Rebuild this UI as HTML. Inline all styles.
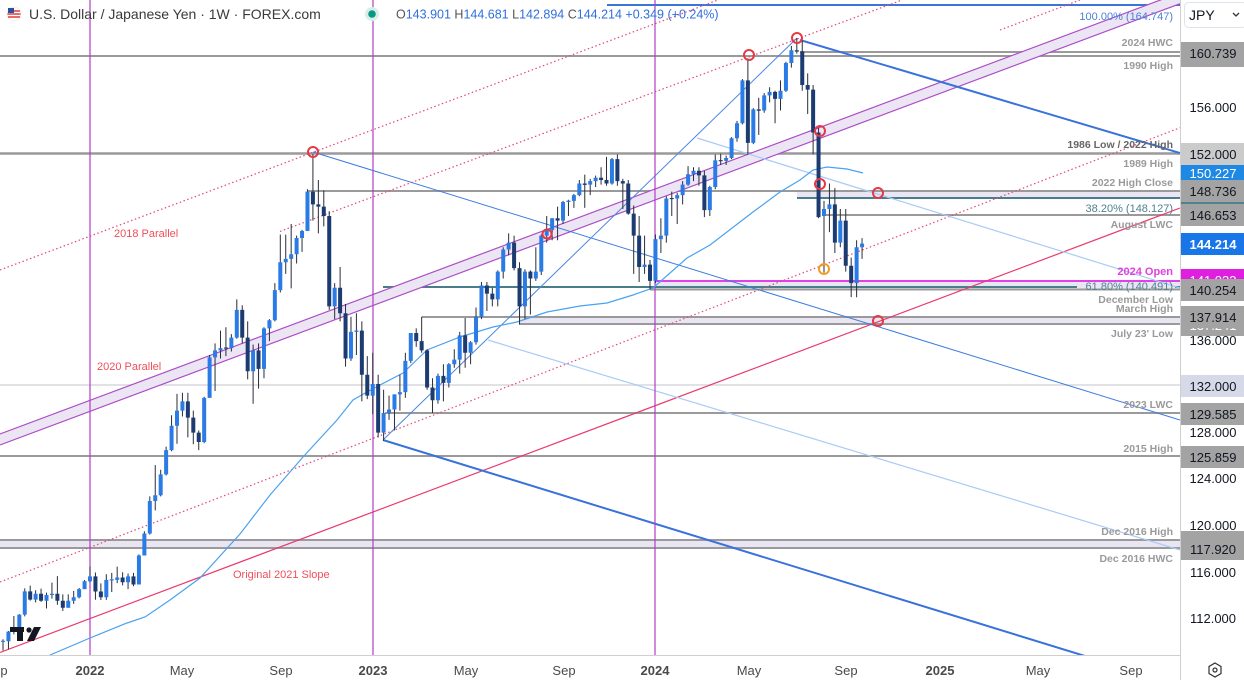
<!DOCTYPE html>
<html><head><meta charset="utf-8"><style>
html,body{margin:0;padding:0;background:#fff;}
body{width:1244px;height:680px;overflow:hidden;font-family:"Liberation Sans",sans-serif;}
svg{display:block;}
</style></head><body>
<svg width="1244" height="680" viewBox="0 0 1244 680" xmlns="http://www.w3.org/2000/svg" font-family="Liberation Sans, sans-serif">
<defs><clipPath id="ca"><rect x="0" y="0" width="1180" height="655"/></clipPath></defs>
<rect width="1244" height="680" fill="#fff"/>
<g clip-path="url(#ca)">
 <rect x="797" y="191" width="383" height="7" fill="#e9e5f3"/>
 <rect x="655" y="281" width="525" height="8" fill="#e9e5f3"/>
 <rect x="519" y="317" width="661" height="7" fill="#e9e5f3"/>
 <rect x="0" y="540" width="1180" height="8" fill="#e9e5f3"/>
 <g stroke="#9a9a9a" stroke-width="2">
  <line x1="800" y1="52" x2="1180" y2="52"/>
  <line x1="0" y1="56" x2="1180" y2="56"/>
  <line x1="0" y1="153.5" x2="1180" y2="153.5" stroke-width="2.5"/>
  <line x1="307" y1="191" x2="1180" y2="191"/>
  <line x1="825" y1="215" x2="1180" y2="215"/>
  <line x1="650" y1="289.5" x2="1180" y2="289.5"/>
  <line x1="422" y1="317" x2="1180" y2="317"/>
  <line x1="519" y1="324" x2="1180" y2="324"/>
  <line x1="385" y1="413" x2="1180" y2="413"/>
  <line x1="0" y1="456" x2="1180" y2="456"/>
  <line x1="0" y1="540" x2="1180" y2="540"/>
  <line x1="0" y1="548" x2="1180" y2="548"/>
 </g>
 <line x1="0" y1="385" x2="1180" y2="385" stroke="#e2e2e6" stroke-width="2"/>
 <line x1="797" y1="198" x2="1180" y2="198" stroke="#4a7d8b" stroke-width="2"/>
 <line x1="383" y1="287" x2="1077" y2="287" stroke="#4a7d8b" stroke-width="2"/>
 <line x1="1175" y1="287" x2="1180" y2="287" stroke="#4a7d8b" stroke-width="2"/>
 <line x1="655" y1="281" x2="1180" y2="281" stroke="#e040e8" stroke-width="2"/>
 <line x1="607" y1="5" x2="1180" y2="5" stroke="#3a76d8" stroke-width="2"/>
 <polygon points="0,434 1180,-7.3 1180,3.7 0,445" fill="#ebe5f4"/>
 <line x1="0" y1="434" x2="1180" y2="-7.3" stroke="#ad4cc6" stroke-width="1.2"/>
 <line x1="0" y1="445" x2="1180" y2="3.7" stroke="#ad4cc6" stroke-width="1.2"/>
 <g stroke="#e8457a" stroke-width="1.2" stroke-dasharray="1.5 2.5" fill="none">
  <line x1="0" y1="270" x2="718" y2="0"/>
  <line x1="280" y1="231.4" x2="902" y2="0"/>
  <line x1="0" y1="582" x2="1180" y2="127.7"/>
  <line x1="1000" y1="30" x2="1080" y2="0"/>
 </g>
 <line x1="0" y1="652.5" x2="1180" y2="208" stroke="#ea3a6c" stroke-width="1.2"/>
 <line x1="313" y1="152" x2="1180" y2="420" stroke="#3b7be0" stroke-width="1"/>
 <line x1="800" y1="40" x2="1180" y2="153" stroke="#3a72db" stroke-width="2"/>
 <line x1="383" y1="440" x2="1085" y2="656" stroke="#3a72db" stroke-width="2"/>
 <line x1="383" y1="440" x2="797" y2="38" stroke="#4a86e0" stroke-width="1"/>
 <line x1="488" y1="340" x2="1180" y2="550" stroke="#a9cbf5" stroke-width="1.2"/>
 <line x1="697" y1="138" x2="1180" y2="288" stroke="#a9cbf5" stroke-width="1.2"/>
 <g stroke="#b33cc6" stroke-width="1.2">
  <line x1="90" y1="0" x2="90" y2="655"/>
  <line x1="373" y1="0" x2="373" y2="655"/>
  <line x1="655" y1="0" x2="655" y2="655"/>
 </g>
 <polyline fill="none" stroke="#4aa2f0" stroke-width="1.2" points="50,655 90,638 127,623 145,617 170,600 200,578 240,534 270,495 303,457 337,420 353,400 367,392 380,385 403,373 427,350 460,337 493,327 517,322 547,312 580,306 607,303 633,295 653,288 687,258 710,245 753,212 780,192 800,180 813,170 827,167 847,169 863,173"/>
 <g transform="matrix(5.437,0,0,-11.59,3.008,1915.04)" fill="none" stroke-linecap="butt">
  <path vector-effect="non-scaling-stroke" stroke="#2a2e39" stroke-width="1" d="M0 109.11V110.08M1 109.21V110.79M2 110.5V112.08M3 110.82V112.25M4 112.05V114.47M5 113.41V114.7M6 113.25V114.3M7 113.3V114.44M8 112.73V114.1M9 113.58V114.96M10 113.05V115.52M11 112.53V113.95M12 112.8V113.95M13 113.13V114.25M14 113.6V114.5M15 114.4V115.19M16 115V116.35M17 113.48V115.84M18 113.46V114.9M19 113.47V115.68M20 114.15V115.8M21 114.92V116.34M22 114.73V115.86M23 114.4V115.75M24 114.65V115.8M25 114.8V117.4M26 117.3V119.4M27 119.1V122.4M28 121.2V125.1M29 122.4V124.7M30 124.2V126.7M31 126.3V129.4M32 126.95V131.25M33 129.3V131.35M34 127.5V131.35M35 126.9V129.8M36 126.4V128.1M37 127V131M38 130.9V134.6M39 131.5V135.6M40 134.3V136.7M41 134.5V137M42 134.9V136.4M43 136V139.4M44 135.6V138.9M45 132.5V137.5M46 130.4V135.5M47 131.7V135.6M48 132.6V137M49 135.8V137.7M50 137.5V140.8M51 140V145M52 141.6V144.99M53 140.35V145.9M54 142.5V144.9M55 143.5V145.4M56 145.3V148.9M57 146.2V151.95M58 145.1V149.7M59 145.7V148.8M60 138.5V147M61 137.7V140.8M62 137.5V142.2M63 133.6V139M64 134.1V137.9M65 134.6V138.2M66 130.6V137.5M67 130.8V134.5M68 129.5V134.8M69 127.5V132.9M70 127.2V131.6M71 129V131.1M72 128.1V131.2M73 129.8V132.9M74 130.9V134.8M75 133.9V136.5M76 135.3V136.9M77 134.8V137.9M78 131.6V135.1M79 129.6V132.6M80 130.4V133M81 130.6V133.8M82 131.8V133.9M83 133.5V135.1M84 133V136.6M85 133.5V137.8M86 133.8V135.8M87 135.5V138.7M88 137.7V140.9M89 138.4V140.9M90 138.8V140.4M91 138.8V141.9M92 141.2V143.9M93 143.2V145.1M94 141.9V144.9M95 137.24V142.6M96 137.7V142M97 138.1V141.9M98 141V143.9M99 141.5V145M100 144.3V146.6M101 144.5V146.4M102 144.5V147.4M103 145.9V147.9M104 146.6V148M105 147.3V148.5M106 148.3V149.7M107 147.3V150.16M108 148.4V149.8M109 149.1V150.08M110 149.3V150.8M111 149.2V151.7M112 149.3V151.6M113 149.2V151.9M114 147.2V149.8M115 146.7V149.7M116 141.6V147.5M117 140.9V146.6M118 141.6V144.9M119 140.25V142.8M120 140.8V145M121 143.4V146.4M122 144.3V148.3M123 146.6V148.7M124 145.9V148.6M125 147.6V149.6M126 149.2V150.9M127 149.6V150.8M128 149.2V150.8M129 146.5V150.5M130 146.6V149.2M131 148.9V151.9M132 151V151.97M133 151V151.8M134 151.5V153.4M135 153V154.8M136 154.5V158.4M137 151.86V160.2M138 152.8V155.9M139 153.6V156.8M140 155.5V157.2M141 156.4V157.7M142 154.6V157.4M143 155.7V158.3M144 157.3V159.9M145 159.4V161.27M146 160.6V161.95M147 157.4V161.8M148 155.4V158.9M149 151.9V157.9M150 146.4V154.2M151 141.7V147.9M152 145.2V149.4M153 143.4V149M154 143.9V147.2M155 141.8V147.2M156 139.6V143M157 139.58V144.5M158 142.894V144.681"/>
  <path vector-effect="non-scaling-stroke" stroke="#2b7be6" stroke-width="4" d="M0 109.85V109.95M1 109.9V110.74M2 110.74V111.05M3 111.05V112.2M4 112.2V114.21M6 113.5V114M8 113.4V113.9M9 113.9V114M12 112.8V113.4M13 113.4V113.7M14 113.7V114.4M15 114.4V115.08M16 115.08V115.5M19 113.7V115.2M20 115.15V115.25M21 115.2V115.4M23 115V115.5M25 114.8V117.3M26 117.3V119.2M27 119.2V122M28 122V122.5M29 122.5V124.3M30 124.3V126.4M31 126.4V128.5M32 128.5V129.8M33 129.8V130.6M37 127.1V130.9M38 130.9V134.4M39 134.4V135M40 135V135.2M42 135.2V136.1M43 136.1V138.5M46 133.2V135M48 133.4V136.9M49 136.9V137.6M50 137.6V140.2M51 140.2V142.6M52 142.6V142.9M53 142.9V143.3M54 143.3V144.7M55 144.7V145.3M56 145.3V148.7M61 138.8V140.4M64 134.3V136.6M65 136.6V136.72M68 131.1V132.1M70 127.9V129.6M71 129.6V129.9M72 129.9V131.2M73 131.2V131.4M74 131.4V134.1M75 134.1V136.5M80 130.7V132.8M82 132.2V133.8M83 133.8V134.2M84 134.2V136.3M86 134.8V135.7M87 135.7V137.9M88 137.9V140.6M91 139.4V141.8M92 141.8V143.7M93 143.7V144.3M96 138.8V141.8M98 141.2V141.8M99 141.8V144.9M100 144.9V145.4M101 145.4V146.4M103 146.2V147.8M104 147.8V147.92M105 147.9V148.4M106 148.4V149.4M108 149.3V149.6M109 149.6V149.9M112 149.4V151.5M118 142.2V142.4M120 141V144.6M121 144.6V144.9M122 144.9V148.1M124 148.1V148.4M125 148.4V149.3M126 149.3V150.2M127 150.2V150.5M130 147.1V149.1M131 149.1V151.4M133 151.35V151.6M134 151.6V153.3M135 153.3V154.6M136 154.6V158.3M138 152.9V155.8M140 155.7V157M141 157V157.3M143 156.7V157.4M144 157.4V159.8M145 159.8V160.9M151 146.6V147.2M152 147.2V147.6M154 144.3V146.2M157 140.8V143.9M158 143.901V144.214"/>
  <path vector-effect="non-scaling-stroke" stroke="#1c3b70" stroke-width="4" d="M5 114.21V113.5M7 114V113.4M10 114V113.4M11 113.4V112.8M17 115.5V114.2M18 114.2V113.7M22 115.4V115M24 115.5V114.8M34 130.6V129.2M35 129.2V127.9M36 127.9V127.1M41 135.25V135.15M44 138.5V136.1M45 136.1V133.2M47 135V133.4M57 148.7V147.6M58 147.6V147.4M59 147.4V146.6M60 146.6V138.8M62 140.4V138.2M63 138.2V134.3M66 136.7V132.9M67 132.9V131.1M69 132.1V127.9M76 136.5V135.8M77 135.8V135M78 135V131.8M79 131.8V130.7M81 132.8V132.2M85 136.3V134.8M89 140.6V139.9M90 139.9V139.4M94 144.3V142.1M95 142.1V138.8M97 141.8V141.2M102 146.4V146.2M107 149.4V149.28M110 149.9V149.7M111 149.7V149.4M113 151.5V149.6M114 149.6V149.4M115 149.4V146.8M116 146.8V144.9M117 144.9V142.2M119 142.4V141M123 148.15V148.05M128 150.5V150.1M129 150.1V147.1M132 151.42V151.32M137 158.3V152.9M139 155.8V155.68M142 157.3V156.7M146 160.9V160.78M147 160.8V157.9M148 157.9V157.5M149 157.5V153.8M150 153.8V146.5M153 147.6V144.3M155 146.2V142.3M156 142.3V140.8"/>
 </g>
 <g fill="none" stroke="#e53945" stroke-width="2">
  <circle cx="313" cy="152" r="5"/>
  <circle cx="547" cy="234" r="4.5"/>
  <circle cx="749" cy="55" r="5"/>
  <circle cx="797" cy="38" r="5"/>
  <circle cx="820" cy="131" r="5"/>
  <circle cx="820" cy="184" r="5"/>
  <circle cx="878" cy="193" r="5"/>
  <circle cx="878" cy="321" r="5"/>
 </g>
 <circle cx="824" cy="269" r="5" fill="none" stroke="#f39c23" stroke-width="2"/>
 <g fill="#131722">
  <rect x="10" y="627" width="14" height="5"/>
  <rect x="17" y="627" width="6" height="14"/>
  <circle cx="29" cy="630" r="2.6"/>
  <polygon points="34,627 41,627 34,641 27,641"/>
 </g>
</g>
<g font-size="11" fill="#ef4f5a">
 <text x="114" y="237">2018 Parallel</text>
 <text x="97" y="370">2020 Parallel</text>
 <text x="233" y="578">Original 2021 Slope</text>
</g>
<g font-size="10.5" font-weight="bold" fill="#9a9a9a" text-anchor="end">
 <text x="1173" y="46">2024 HWC</text>
 <text x="1173" y="69">1990 High</text>
 <text x="1173" y="148" fill="#666">1986 Low / 2022 High</text>
 <text x="1173" y="167">1989 High</text>
 <text x="1173" y="186">2022 High Close</text>
 <text x="1173" y="228">August LWC</text>
 <text x="1173" y="303">December Low</text>
 <text x="1173" y="312">March High</text>
 <text x="1173" y="337">July 23' Low</text>
 <text x="1173" y="408">2023 LWC</text>
 <text x="1173" y="452">2015 High</text>
 <text x="1173" y="535">Dec 2016 High</text>
 <text x="1173" y="562">Dec 2016 HWC</text>
</g>
<g font-size="11" text-anchor="end">
 <text x="1173" y="20" fill="#4a80d8">100.00% (164.747)</text>
 <text x="1173" y="212" fill="#4f8191">38.20% (148.127)</text>
 <text x="1173" y="275" fill="#e040e0" font-weight="bold">2024 Open</text>
 <text x="1173" y="290" fill="#4f8191">61.80% (140.491)</text>
</g>
<g>
 <circle cx="14" cy="14" r="7" fill="#fff" stroke="#e0e0e0" stroke-width="0.5"/>
 <path d="M8,11 h12 M7.5,14 h13 M8,17 h12" stroke="#e53935" stroke-width="1.4"/>
 <rect x="8" y="8" width="6" height="5" fill="#2c4fa3"/>
 <text x="29" y="19" font-size="14" fill="#3a3a3a">U.S. Dollar / Japanese Yen · 1W · FOREX.com</text>
 <circle cx="372" cy="14" r="7" fill="#d8efe9"/>
 <circle cx="372" cy="14" r="3.8" fill="#089981"/>
 <text x="396" y="18.5" font-size="12.5" fill="#2f6fde"><tspan fill="#555">O</tspan>143.901 <tspan fill="#555">H</tspan>144.681 <tspan fill="#555">L</tspan>142.894 <tspan fill="#555">C</tspan>144.214 +0.349 (+0.24%)</text>
</g>
<rect x="1180" y="0" width="64" height="680" fill="#fff"/>
<rect x="0" y="655" width="1180" height="25" fill="#fff"/>
<line x1="1180.5" y1="0" x2="1180.5" y2="680" stroke="#cfcfcf" stroke-width="1"/>
<line x1="0" y1="655.5" x2="1180" y2="655.5" stroke="#cfcfcf" stroke-width="1"/>
<rect x="1184.5" y="2.5" width="62" height="25" rx="4" fill="#fff" stroke="#e0e3eb"/>
<text x="1189" y="20" font-size="14" fill="#131722">JPY</text>
<path d="M1233,13 l3,3 l3,-3" fill="none" stroke="#333" stroke-width="1.3"/>
<g font-size="13" text-anchor="middle" fill="#131722">
 <rect x="1181" y="45" width="63" height="22" fill="#a3a3a3"/>
 <rect x="1181" y="42" width="63" height="22" fill="#a3a3a3"/>
 <text x="1213" y="58">160.739</text>
 <text x="1213" y="112">156.000</text>
 <rect x="1181" y="164" width="63" height="22" fill="#1e88e5"/>
 <text x="1213" y="178" fill="#fff">150.227</text>
 <rect x="1181" y="143" width="63" height="22" fill="#cbcbcb"/>
 <text x="1213" y="159">152.000</text>
 <rect x="1181" y="202" width="63" height="6" fill="#4f8191"/>
 <rect x="1181" y="180" width="63" height="22" fill="#a3a3a3"/>
 <text x="1213" y="196">148.736</text>
 <rect x="1181" y="204" width="63" height="22" fill="#a3a3a3"/>
 <text x="1213" y="220">146.653</text>
 <rect x="1181" y="233" width="63" height="22" fill="#1976e8"/>
 <text x="1213" y="249" fill="#fff" font-weight="bold">144.214</text>
 <rect x="1181" y="269" width="63" height="22" fill="#e01ee0"/>
 <text x="1213" y="285" fill="#fff">141.033</text>
 <rect x="1181" y="279" width="63" height="22" fill="#a3a3a3"/>
 <text x="1213" y="295">140.254</text>
 <text x="1213" y="345">136.000</text>
 <rect x="1181" y="314" width="63" height="22" fill="#a3a3a3"/>
 <text x="1213" y="330" fill="#fff">137.241</text>
 <rect x="1181" y="306" width="63" height="22" fill="#a3a3a3"/>
 <text x="1213" y="322">137.914</text>
 <rect x="1181" y="375" width="63" height="22" fill="#d6dae8"/>
 <text x="1213" y="391">132.000</text>
 <rect x="1181" y="403" width="63" height="22" fill="#a3a3a3"/>
 <text x="1213" y="419">129.585</text>
 <text x="1213" y="437">128.000</text>
 <rect x="1181" y="446" width="63" height="22" fill="#a3a3a3"/>
 <text x="1213" y="462">125.859</text>
 <text x="1213" y="483">124.000</text>
 <text x="1213" y="530">120.000</text>
 <rect x="1181" y="531" width="63" height="22" fill="#a3a3a3"/>
 <text x="1213" y="547" fill="#fff">118.665</text>
 <rect x="1181" y="538" width="63" height="22" fill="#a3a3a3"/>
 <text x="1213" y="554">117.920</text>
 <text x="1213" y="577">116.000</text>
 <text x="1213" y="623">112.000</text>
</g>
<g font-size="13" fill="#4a4a4a" text-anchor="middle">
 <text x="-4" y="675">Sep</text>
 <text x="90" y="675" font-weight="bold">2022</text>
 <text x="182" y="675">May</text>
 <text x="281" y="675">Sep</text>
 <text x="373" y="675" font-weight="bold">2023</text>
 <text x="466" y="675">May</text>
 <text x="564" y="675">Sep</text>
 <text x="655" y="675" font-weight="bold">2024</text>
 <text x="749" y="675">May</text>
 <text x="846" y="675">Sep</text>
 <text x="940" y="675" font-weight="bold">2025</text>
 <text x="1038" y="675">May</text>
 <text x="1131" y="675">Sep</text>
</g>
<polygon points="1215,663 1221,666.5 1221,673.5 1215,677 1209,673.5 1209,666.5" fill="none" stroke="#333" stroke-width="1.2"/>
<circle cx="1215" cy="670" r="2" fill="none" stroke="#333" stroke-width="1.2"/>
</svg>
</body></html>
